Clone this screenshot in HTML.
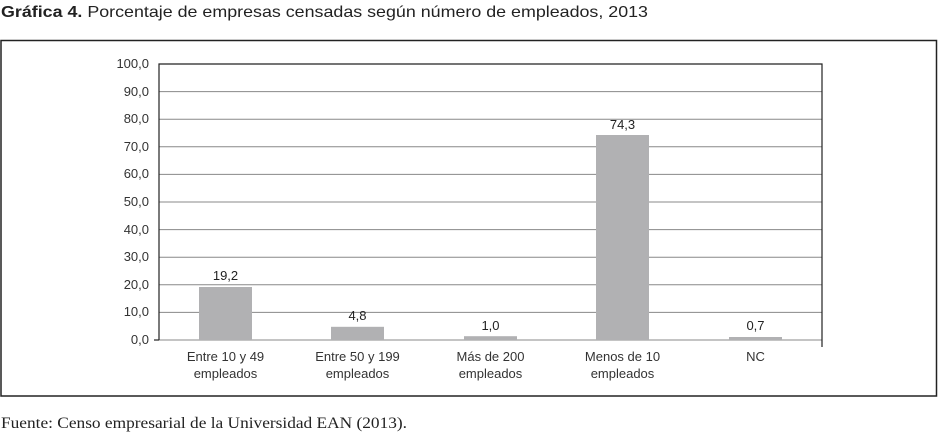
<!DOCTYPE html>
<html><head><meta charset="utf-8"><style>
body{margin:0;background:#fff;width:938px;height:432px;overflow:hidden;position:relative;font-family:"Liberation Sans",sans-serif;}
</style></head><body>
<svg width="938" height="432" style="position:absolute;left:0;top:0" font-family="Liberation Sans, sans-serif">
<text x="1" y="17" font-size="16" fill="#222" textLength="647" lengthAdjust="spacingAndGlyphs"><tspan font-weight="bold">Gráfica 4.</tspan> Porcentaje de empresas censadas según número de empleados, 2013</text>
<rect x="1" y="40.5" width="935.5" height="355.5" fill="none" stroke="#222" stroke-width="1.5"/>
<g stroke="#888" stroke-width="1">
<line x1="159" x2="822" y1="91.6" y2="91.6"/><line x1="159" x2="822" y1="119.2" y2="119.2"/>
<line x1="159" x2="822" y1="146.8" y2="146.8"/><line x1="159" x2="822" y1="174.4" y2="174.4"/>
<line x1="159" x2="822" y1="202" y2="202"/><line x1="159" x2="822" y1="229.6" y2="229.6"/>
<line x1="159" x2="822" y1="257.2" y2="257.2"/><line x1="159" x2="822" y1="284.8" y2="284.8"/>
<line x1="159" x2="822" y1="312.4" y2="312.4"/><line x1="159" x2="822" y1="340" y2="340"/>
</g>
<g fill="#b1b1b3">
<rect x="199" y="287" width="53" height="53"/>
<rect x="331" y="326.8" width="53" height="13.2"/>
<rect x="464" y="336.2" width="53" height="3.8"/>
<rect x="596" y="135" width="53" height="205"/>
<rect x="729" y="337" width="53" height="3"/>
</g>
<g stroke="#222" stroke-width="1.2" fill="none">
<polyline points="159,340 159,64 822,64 822,347"/>
<line x1="154" x2="159" y1="340" y2="340"/>
</g>
<g font-size="13" fill="#333" text-anchor="end">
<text x="149" y="68">100,0</text><text x="149" y="96">90,0</text><text x="149" y="123">80,0</text>
<text x="149" y="151">70,0</text><text x="149" y="178">60,0</text><text x="149" y="206">50,0</text>
<text x="149" y="234">40,0</text><text x="149" y="261">30,0</text><text x="149" y="289">20,0</text>
<text x="149" y="316">10,0</text><text x="149" y="344">0,0</text>
</g>
<g font-size="13" fill="#222" text-anchor="middle">
<text x="225.5" y="280">19,2</text><text x="357.5" y="320">4,8</text><text x="490.5" y="330">1,0</text>
<text x="622.5" y="129">74,3</text><text x="755.5" y="330">0,7</text>
</g>
<g font-size="13" fill="#333" text-anchor="middle">
<text x="225.5" y="361">Entre 10 y 49</text><text x="225.5" y="378">empleados</text>
<text x="357.5" y="361">Entre 50 y 199</text><text x="357.5" y="378">empleados</text>
<text x="490.5" y="361">Más de 200</text><text x="490.5" y="378">empleados</text>
<text x="622.5" y="361">Menos de 10</text><text x="622.5" y="378">empleados</text>
<text x="755.5" y="361">NC</text>
</g>
<text x="1" y="428" font-family="Liberation Serif, serif" font-size="16" fill="#222" textLength="406" lengthAdjust="spacingAndGlyphs">Fuente: Censo empresarial de la Universidad EAN (2013).</text>
</svg>
</body></html>
